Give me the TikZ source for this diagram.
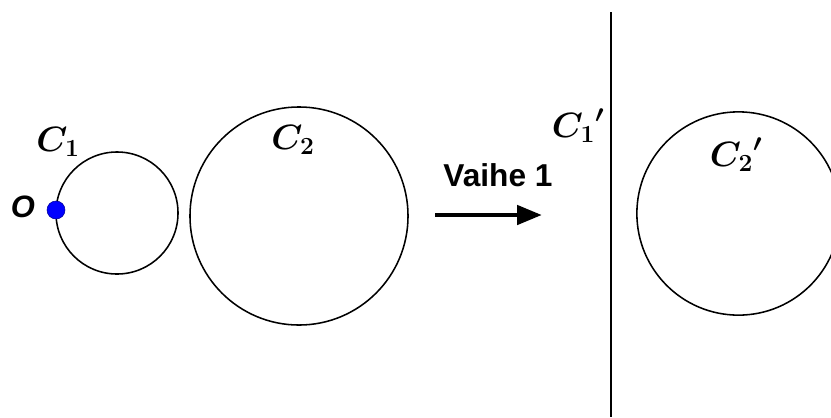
\RequirePackage{fix-cm}
\documentclass[tikz,border=0pt]{standalone}
\usepackage{fontspec}
\newfontfamily\stepfont{Liberation Sans}
\usetikzlibrary{arrows.meta}

\begin{document}
\begin{tikzpicture}[x=0.025cm, y=-0.025cm,
  circ/.style={circle, draw, line width=1.1pt, inner sep=0pt},
  lbl/.style={font=\boldmath\fontsize{25}{30}\selectfont, inner sep=0pt},
  >=Triangle
]
  \useasboundingbox (0,0) rectangle (831,417);
  \clip (0,0) rectangle (831,417);

  % Before the step: circles C1, C2 and the point O
  \node[circ, minimum size=3.05cm] (c1) at (117,213) {};
  \node[circ, minimum size=5.45cm] (c2) at (299,216) {};
  \node[circle, fill=blue, draw=blue!60!black, minimum size=0.45cm, inner sep=0pt] (o) at (56,210) {};
  \node[font=\stepfont\bfseries\itshape\fontsize{22}{26}\selectfont, inner sep=0pt] (olbl) at (23,207) {O};
  \node[lbl] (c1lbl) at (58,142) {$C_1$};
  \node[lbl] (c2lbl) at (293,140) {$C_2$};

  % Step arrow
  \coordinate (stepstart) at (435,215);
  \coordinate (stepend) at (542,215);
  \draw[-{Triangle[length=0.62cm, width=0.47cm]}, line width=3.4pt] (stepstart) -- (stepend);
  \node[font=\stepfont\bfseries\fontsize{22.5}{26}\selectfont, inner sep=0pt] (steplbl) at (498,175) {Vaihe 1};

  % After the step: C1 becomes a line, C2 a circle
  \coordinate (linetop) at (611,12);
  \coordinate (linebot) at (611,417);
  \draw[line width=1.4pt] (linetop) -- (linebot);
  \node[circ, minimum size=5.08cm] (c2p) at (738.5,213.5) {};
  \node[lbl] (c1plbl) at (578,126) {${C_1}'$};
  \node[lbl] (c2plbl) at (736,155) {${C_2}'$};
\end{tikzpicture}
\end{document}
